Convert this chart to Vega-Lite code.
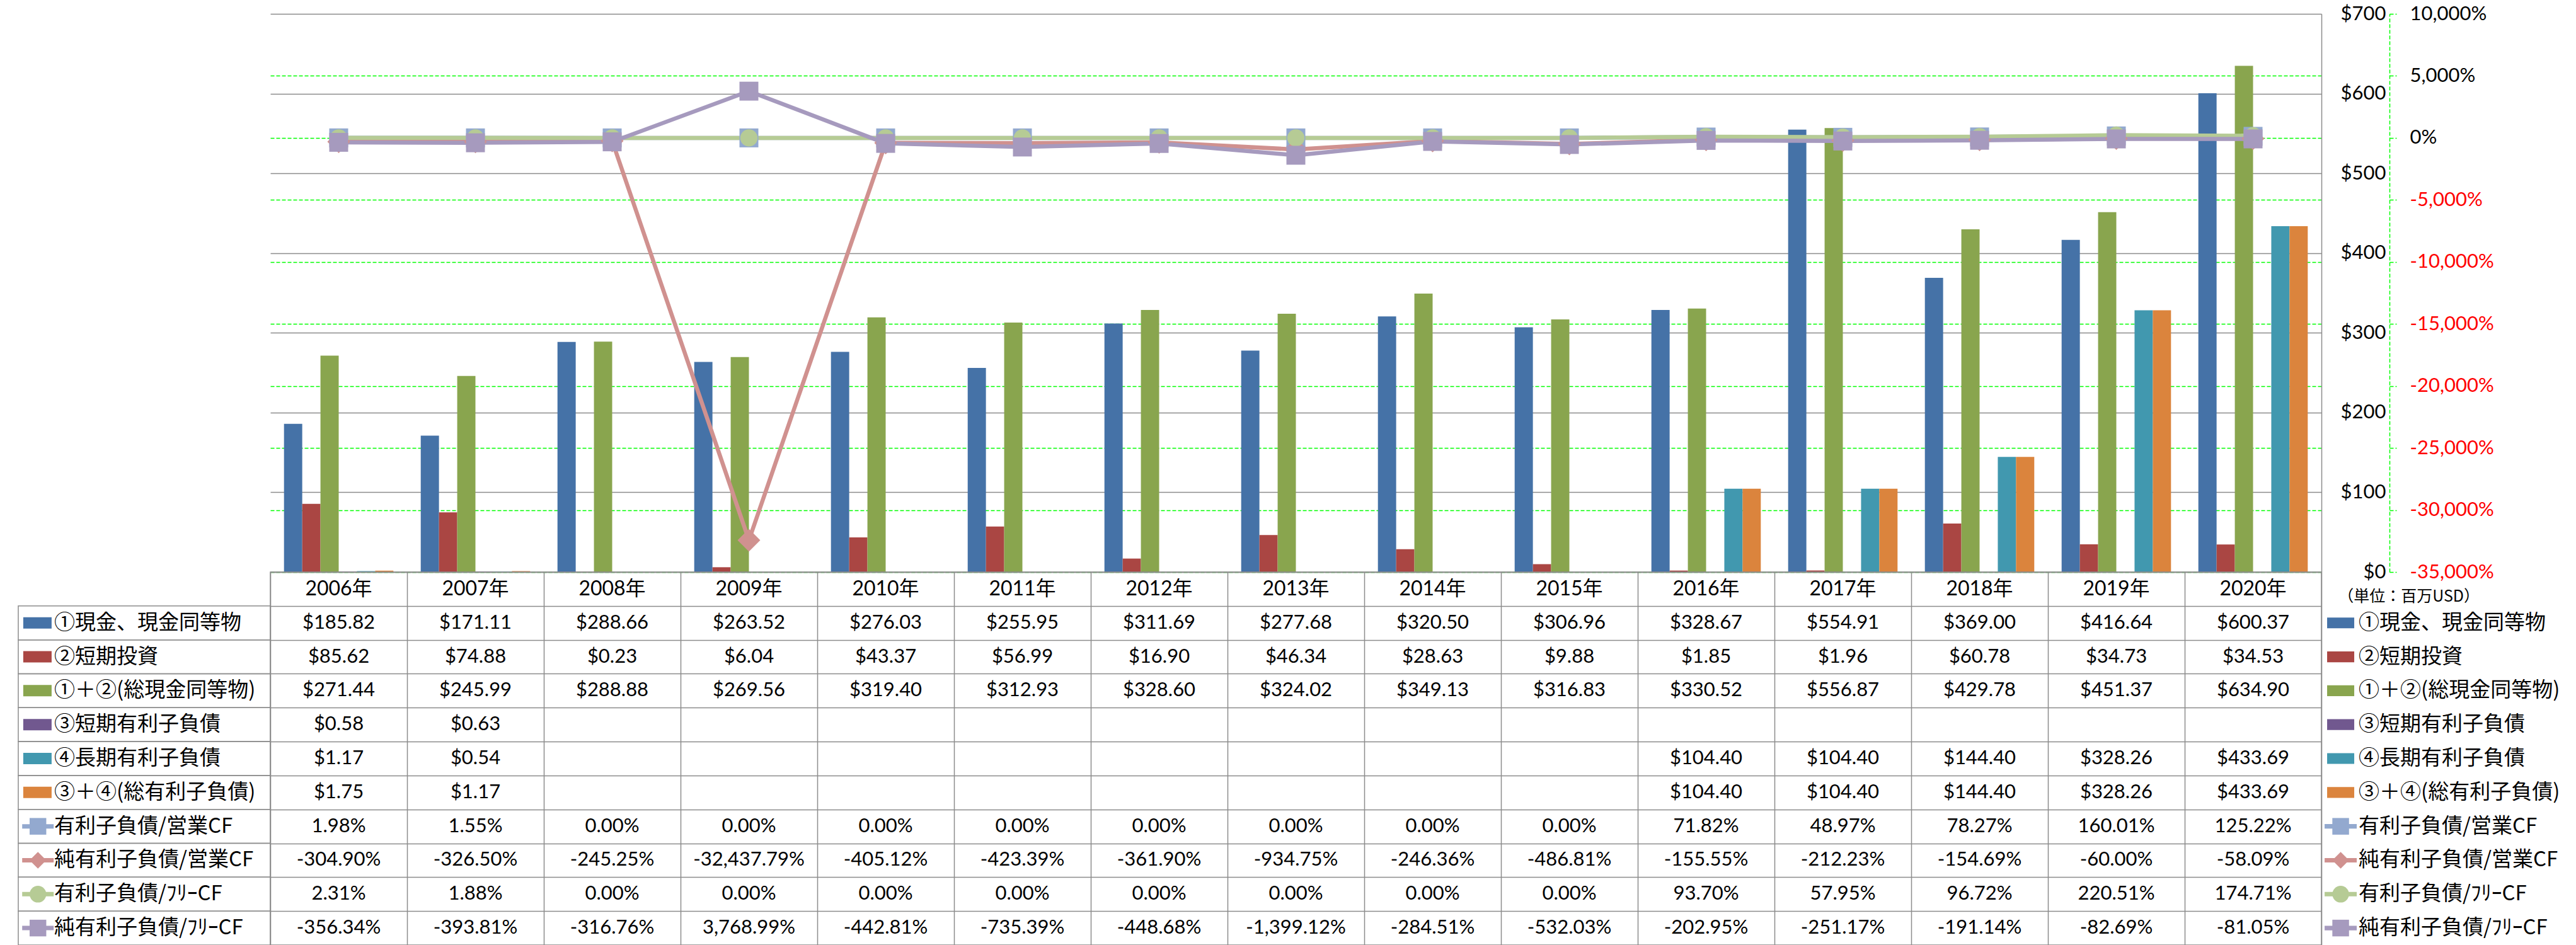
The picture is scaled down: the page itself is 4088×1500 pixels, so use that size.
{
  "$schema": "https://vega.github.io/schema/vega-lite/v6.json",
  "background": "white",
  "padding": {"left": 28, "top": 6, "right": 3, "bottom": 0},
  "spacing": 0,
  "bounds": "flush",
  "columns": 3,
  "resolve": {"scale": {"color": "independent", "shape": "independent"}},
  "config": {
    "view": {"stroke": null},
    "text": {"font": "Lato", "color": "#000000"},
    "axis": {"labelFont": "Lato", "labelFontSize": 31, "labelColor": "#000000"}
  },
  "datasets": {
    "bars": [
      {"year": "2006年", "s": "①現金、現金同等物", "v": 185.82},
      {"year": "2006年", "s": "②短期投資", "v": 85.62},
      {"year": "2006年", "s": "①＋②(総現金同等物)", "v": 271.44},
      {"year": "2006年", "s": "③短期有利子負債", "v": 0.58},
      {"year": "2006年", "s": "④長期有利子負債", "v": 1.17},
      {"year": "2006年", "s": "③＋④(総有利子負債)", "v": 1.75},
      {"year": "2007年", "s": "①現金、現金同等物", "v": 171.11},
      {"year": "2007年", "s": "②短期投資", "v": 74.88},
      {"year": "2007年", "s": "①＋②(総現金同等物)", "v": 245.99},
      {"year": "2007年", "s": "③短期有利子負債", "v": 0.63},
      {"year": "2007年", "s": "④長期有利子負債", "v": 0.54},
      {"year": "2007年", "s": "③＋④(総有利子負債)", "v": 1.17},
      {"year": "2008年", "s": "①現金、現金同等物", "v": 288.66},
      {"year": "2008年", "s": "②短期投資", "v": 0.23},
      {"year": "2008年", "s": "①＋②(総現金同等物)", "v": 288.88},
      {"year": "2009年", "s": "①現金、現金同等物", "v": 263.52},
      {"year": "2009年", "s": "②短期投資", "v": 6.04},
      {"year": "2009年", "s": "①＋②(総現金同等物)", "v": 269.56},
      {"year": "2010年", "s": "①現金、現金同等物", "v": 276.03},
      {"year": "2010年", "s": "②短期投資", "v": 43.37},
      {"year": "2010年", "s": "①＋②(総現金同等物)", "v": 319.40},
      {"year": "2011年", "s": "①現金、現金同等物", "v": 255.95},
      {"year": "2011年", "s": "②短期投資", "v": 56.99},
      {"year": "2011年", "s": "①＋②(総現金同等物)", "v": 312.93},
      {"year": "2012年", "s": "①現金、現金同等物", "v": 311.69},
      {"year": "2012年", "s": "②短期投資", "v": 16.90},
      {"year": "2012年", "s": "①＋②(総現金同等物)", "v": 328.60},
      {"year": "2013年", "s": "①現金、現金同等物", "v": 277.68},
      {"year": "2013年", "s": "②短期投資", "v": 46.34},
      {"year": "2013年", "s": "①＋②(総現金同等物)", "v": 324.02},
      {"year": "2014年", "s": "①現金、現金同等物", "v": 320.50},
      {"year": "2014年", "s": "②短期投資", "v": 28.63},
      {"year": "2014年", "s": "①＋②(総現金同等物)", "v": 349.13},
      {"year": "2015年", "s": "①現金、現金同等物", "v": 306.96},
      {"year": "2015年", "s": "②短期投資", "v": 9.88},
      {"year": "2015年", "s": "①＋②(総現金同等物)", "v": 316.83},
      {"year": "2016年", "s": "①現金、現金同等物", "v": 328.67},
      {"year": "2016年", "s": "②短期投資", "v": 1.85},
      {"year": "2016年", "s": "①＋②(総現金同等物)", "v": 330.52},
      {"year": "2016年", "s": "④長期有利子負債", "v": 104.40},
      {"year": "2016年", "s": "③＋④(総有利子負債)", "v": 104.40},
      {"year": "2017年", "s": "①現金、現金同等物", "v": 554.91},
      {"year": "2017年", "s": "②短期投資", "v": 1.96},
      {"year": "2017年", "s": "①＋②(総現金同等物)", "v": 556.87},
      {"year": "2017年", "s": "④長期有利子負債", "v": 104.40},
      {"year": "2017年", "s": "③＋④(総有利子負債)", "v": 104.40},
      {"year": "2018年", "s": "①現金、現金同等物", "v": 369.00},
      {"year": "2018年", "s": "②短期投資", "v": 60.78},
      {"year": "2018年", "s": "①＋②(総現金同等物)", "v": 429.78},
      {"year": "2018年", "s": "④長期有利子負債", "v": 144.40},
      {"year": "2018年", "s": "③＋④(総有利子負債)", "v": 144.40},
      {"year": "2019年", "s": "①現金、現金同等物", "v": 416.64},
      {"year": "2019年", "s": "②短期投資", "v": 34.73},
      {"year": "2019年", "s": "①＋②(総現金同等物)", "v": 451.37},
      {"year": "2019年", "s": "④長期有利子負債", "v": 328.26},
      {"year": "2019年", "s": "③＋④(総有利子負債)", "v": 328.26},
      {"year": "2020年", "s": "①現金、現金同等物", "v": 600.37},
      {"year": "2020年", "s": "②短期投資", "v": 34.53},
      {"year": "2020年", "s": "①＋②(総現金同等物)", "v": 634.90},
      {"year": "2020年", "s": "④長期有利子負債", "v": 433.69},
      {"year": "2020年", "s": "③＋④(総有利子負債)", "v": 433.69}
    ],
    "lines": [
      {"year": "2006年", "s": "有利子負債/営業CF", "v": 1.98},
      {"year": "2007年", "s": "有利子負債/営業CF", "v": 1.55},
      {"year": "2008年", "s": "有利子負債/営業CF", "v": 0},
      {"year": "2009年", "s": "有利子負債/営業CF", "v": 0},
      {"year": "2010年", "s": "有利子負債/営業CF", "v": 0},
      {"year": "2011年", "s": "有利子負債/営業CF", "v": 0},
      {"year": "2012年", "s": "有利子負債/営業CF", "v": 0},
      {"year": "2013年", "s": "有利子負債/営業CF", "v": 0},
      {"year": "2014年", "s": "有利子負債/営業CF", "v": 0},
      {"year": "2015年", "s": "有利子負債/営業CF", "v": 0},
      {"year": "2016年", "s": "有利子負債/営業CF", "v": 71.82},
      {"year": "2017年", "s": "有利子負債/営業CF", "v": 48.97},
      {"year": "2018年", "s": "有利子負債/営業CF", "v": 78.27},
      {"year": "2019年", "s": "有利子負債/営業CF", "v": 160.01},
      {"year": "2020年", "s": "有利子負債/営業CF", "v": 125.22},
      {"year": "2006年", "s": "純有利子負債/営業CF", "v": -304.90},
      {"year": "2007年", "s": "純有利子負債/営業CF", "v": -326.50},
      {"year": "2008年", "s": "純有利子負債/営業CF", "v": -245.25},
      {"year": "2009年", "s": "純有利子負債/営業CF", "v": -32437.79},
      {"year": "2010年", "s": "純有利子負債/営業CF", "v": -405.12},
      {"year": "2011年", "s": "純有利子負債/営業CF", "v": -423.39},
      {"year": "2012年", "s": "純有利子負債/営業CF", "v": -361.90},
      {"year": "2013年", "s": "純有利子負債/営業CF", "v": -934.75},
      {"year": "2014年", "s": "純有利子負債/営業CF", "v": -246.36},
      {"year": "2015年", "s": "純有利子負債/営業CF", "v": -486.81},
      {"year": "2016年", "s": "純有利子負債/営業CF", "v": -155.55},
      {"year": "2017年", "s": "純有利子負債/営業CF", "v": -212.23},
      {"year": "2018年", "s": "純有利子負債/営業CF", "v": -154.69},
      {"year": "2019年", "s": "純有利子負債/営業CF", "v": -60.00},
      {"year": "2020年", "s": "純有利子負債/営業CF", "v": -58.09},
      {"year": "2006年", "s": "有利子負債/ﾌﾘｰCF", "v": 2.31},
      {"year": "2007年", "s": "有利子負債/ﾌﾘｰCF", "v": 1.88},
      {"year": "2008年", "s": "有利子負債/ﾌﾘｰCF", "v": 0},
      {"year": "2009年", "s": "有利子負債/ﾌﾘｰCF", "v": 0},
      {"year": "2010年", "s": "有利子負債/ﾌﾘｰCF", "v": 0},
      {"year": "2011年", "s": "有利子負債/ﾌﾘｰCF", "v": 0},
      {"year": "2012年", "s": "有利子負債/ﾌﾘｰCF", "v": 0},
      {"year": "2013年", "s": "有利子負債/ﾌﾘｰCF", "v": 0},
      {"year": "2014年", "s": "有利子負債/ﾌﾘｰCF", "v": 0},
      {"year": "2015年", "s": "有利子負債/ﾌﾘｰCF", "v": 0},
      {"year": "2016年", "s": "有利子負債/ﾌﾘｰCF", "v": 93.70},
      {"year": "2017年", "s": "有利子負債/ﾌﾘｰCF", "v": 57.95},
      {"year": "2018年", "s": "有利子負債/ﾌﾘｰCF", "v": 96.72},
      {"year": "2019年", "s": "有利子負債/ﾌﾘｰCF", "v": 220.51},
      {"year": "2020年", "s": "有利子負債/ﾌﾘｰCF", "v": 174.71},
      {"year": "2006年", "s": "純有利子負債/ﾌﾘｰCF", "v": -356.34},
      {"year": "2007年", "s": "純有利子負債/ﾌﾘｰCF", "v": -393.81},
      {"year": "2008年", "s": "純有利子負債/ﾌﾘｰCF", "v": -316.76},
      {"year": "2009年", "s": "純有利子負債/ﾌﾘｰCF", "v": 3768.99},
      {"year": "2010年", "s": "純有利子負債/ﾌﾘｰCF", "v": -442.81},
      {"year": "2011年", "s": "純有利子負債/ﾌﾘｰCF", "v": -735.39},
      {"year": "2012年", "s": "純有利子負債/ﾌﾘｰCF", "v": -448.68},
      {"year": "2013年", "s": "純有利子負債/ﾌﾘｰCF", "v": -1399.12},
      {"year": "2014年", "s": "純有利子負債/ﾌﾘｰCF", "v": -284.51},
      {"year": "2015年", "s": "純有利子負債/ﾌﾘｰCF", "v": -532.03},
      {"year": "2016年", "s": "純有利子負債/ﾌﾘｰCF", "v": -202.95},
      {"year": "2017年", "s": "純有利子負債/ﾌﾘｰCF", "v": -251.17},
      {"year": "2018年", "s": "純有利子負債/ﾌﾘｰCF", "v": -191.14},
      {"year": "2019年", "s": "純有利子負債/ﾌﾘｰCF", "v": -82.69},
      {"year": "2020年", "s": "純有利子負債/ﾌﾘｰCF", "v": -81.05}
    ],
    "rows": [
      {"r": "①現金、現金同等物"},
      {"r": "②短期投資"},
      {"r": "①＋②(総現金同等物)"},
      {"r": "③短期有利子負債"},
      {"r": "④長期有利子負債"},
      {"r": "③＋④(総有利子負債)"},
      {"r": "有利子負債/営業CF"},
      {"r": "純有利子負債/営業CF"},
      {"r": "有利子負債/ﾌﾘｰCF"},
      {"r": "純有利子負債/ﾌﾘｰCF"}
    ]
  },
  "concat": [
    {
      "width": 400, "height": 886,
      "data": {"values": []},
      "mark": "text"
    },
    {
      "width": 3255, "height": 886,
      "encoding": {
        "x": {"field": "year", "type": "nominal", "sort": null,
          "scale": {"domain": ["2006年","2007年","2008年","2009年","2010年","2011年","2012年","2013年","2014年","2015年","2016年","2017年","2018年","2019年","2020年"], "paddingInner": 0.2, "paddingOuter": 0.1},
          "axis": null}
      },
      "layer": [
        {
          "data": {"name": "bars"},
          "mark": {"type": "bar"},
          "encoding": {
            "xOffset": {"field": "s", "type": "nominal",
              "scale": {"domain": ["①現金、現金同等物","②短期投資","①＋②(総現金同等物)","③短期有利子負債","④長期有利子負債","③＋④(総有利子負債)"], "paddingInner": 0, "paddingOuter": 0}},
            "y": {"field": "v", "type": "quantitative",
              "scale": {"domain": [0, 700], "nice": false, "zero": true},
              "axis": {"orient": "right", "values": [0,100,200,300,400,500,600,700], "labelExpr": "'$' + datum.value",
                "title": null, "grid": true, "gridColor": "#8C8C8C", "gridWidth": 1.5,
                "domain": true, "domainColor": "#8C8C8C", "domainWidth": 1.5,
                "ticks": false, "tickSize": 0, "labelAlign": "right", "labelPadding": 102,
                "labelFlush": false, "labelOverlap": false, "labelBaseline": "middle"}},
            "color": {"field": "s", "type": "nominal",
              "scale": {"domain": ["①現金、現金同等物","②短期投資","①＋②(総現金同等物)","③短期有利子負債","④長期有利子負債","③＋④(総有利子負債)"],
                        "range": ["#4572A7","#AA4643","#89A54E","#71588F","#4198AF","#DB843D"]},
              "legend": null}
          }
        },
        {
          "data": {"name": "lines"},
          "encoding": {
            "y": {"field": "v", "type": "quantitative",
              "scale": {"domain": [-35000, 10000], "nice": false, "zero": false},
              "axis": {"orient": "right", "offset": 108, "title": null,
                "values": [-35000,-30000,-25000,-20000,-15000,-10000,-5000,0,5000,10000],
                "labelExpr": "replace(format(datum.value, ','), '\u2212', '-') + '%'",
                "labelColor": {"condition": {"test": "datum.value < 0", "value": "#FF0000"}, "value": "#000000"},
                "grid": true,
                "gridColor": {"condition": {"test": "datum.value === 10000", "value": "transparent"}, "value": "#00FF00"},
                "gridDash": [6, 3], "gridWidth": 1.5,
                "domain": true, "domainColor": "#00FF00", "domainDash": [6, 3], "domainWidth": 1.5,
                "ticks": true, "tickColor": "#00FF00", "tickDash": [6, 3], "tickSize": 11, "tickWidth": 1.5,
                "labelPadding": 21, "labelFlush": false, "labelOverlap": false, "labelBaseline": "middle"}}
          },
          "layer": [
            {"transform": [{"filter": "datum.s === '有利子負債/営業CF'"}], "mark": {"type": "line", "color": "#93A9CF", "strokeWidth": 6.5, "strokeJoin": "round"}, "encoding": {}},
            {"transform": [{"filter": "datum.s === '純有利子負債/営業CF'"}], "mark": {"type": "line", "color": "#D0918F", "strokeWidth": 6.5, "strokeJoin": "round"}, "encoding": {}},
            {"transform": [{"filter": "datum.s === '有利子負債/ﾌﾘｰCF'"}], "mark": {"type": "line", "color": "#B6CB95", "strokeWidth": 6.5, "strokeJoin": "round"}, "encoding": {}},
            {"transform": [{"filter": "datum.s === '純有利子負債/ﾌﾘｰCF'"}], "mark": {"type": "line", "color": "#A69ABE", "strokeWidth": 6.5, "strokeJoin": "round"}, "encoding": {}},
            {"transform": [{"filter": "datum.s === '有利子負債/営業CF'"}], "mark": {"type": "point", "shape": "square", "size": 900, "filled": true, "color": "#93A9CF", "opacity": 1}},
            {"transform": [{"filter": "datum.s === '純有利子負債/営業CF'"}], "mark": {"type": "point", "shape": "diamond", "size": 1300, "filled": true, "color": "#D0918F", "opacity": 1}},
            {"transform": [{"filter": "datum.s === '有利子負債/ﾌﾘｰCF'"}], "mark": {"type": "point", "shape": "circle", "size": 750, "filled": true, "color": "#B6CB95", "opacity": 1}},
            {"transform": [{"filter": "datum.s === '純有利子負債/ﾌﾘｰCF'"}], "mark": {"type": "point", "shape": "square", "size": 900, "filled": true, "color": "#A69ABE", "opacity": 1}}
          ]
        }
      ],
      "resolve": {"scale": {"y": "independent"}}
    },
    {
      "width": 402, "height": 886,
      "data": {"values": []},
      "mark": "text"
    },
    {
      "width": 400, "height": 592,
      "data": {"name": "rows"},
      "encoding": {
        "y": {"field": "r", "type": "nominal",
          "scale": {"domain": ["hdr","①現金、現金同等物","②短期投資","①＋②(総現金同等物)","③短期有利子負債","④長期有利子負債","③＋④(総有利子負債)","有利子負債/営業CF","純有利子負債/営業CF","有利子負債/ﾌﾘｰCF","純有利子負債/ﾌﾘｰCF"], "paddingInner": 0, "paddingOuter": 0},
          "axis": null}
      },
      "layer": [
        {"mark": {"type": "rect", "filled": false, "stroke": "#8C8C8C", "strokeWidth": 1.5}},
        {
          "transform": [{"filter": {"field": "r", "oneOf": ["①現金、現金同等物","②短期投資","①＋②(総現金同等物)","③短期有利子負債","④長期有利子負債","③＋④(総有利子負債)"]}}],
          "mark": {"type": "point", "shape": "M-1,-0.4H1V0.4H-1Z", "size": 2025, "filled": true, "opacity": 1},
          "encoding": {
            "x": {"datum": 0.076, "type": "quantitative", "scale": {"domain": [0, 1]}, "axis": null},
            "color": {"field": "r", "type": "nominal", "legend": null,
              "scale": {"domain": ["①現金、現金同等物","②短期投資","①＋②(総現金同等物)","③短期有利子負債","④長期有利子負債","③＋④(総有利子負債)","有利子負債/営業CF","純有利子負債/営業CF","有利子負債/ﾌﾘｰCF","純有利子負債/ﾌﾘｰCF"],
                        "range": ["#4572A7","#AA4643","#89A54E","#71588F","#4198AF","#DB843D","#93A9CF","#D0918F","#B6CB95","#A69ABE"]}}
          }
        },
        {
          "transform": [{"filter": {"field": "r", "oneOf": ["有利子負債/営業CF","純有利子負債/営業CF","有利子負債/ﾌﾘｰCF","純有利子負債/ﾌﾘｰCF"]}}],
          "mark": {"type": "point", "shape": "M-1,-0.14H1V0.14H-1Z", "size": 2500, "filled": true, "opacity": 1},
          "encoding": {
            "x": {"datum": 0.078, "type": "quantitative", "scale": {"domain": [0, 1]}, "axis": null},
            "color": {"field": "r", "type": "nominal", "legend": null,
              "scale": {"domain": ["①現金、現金同等物","②短期投資","①＋②(総現金同等物)","③短期有利子負債","④長期有利子負債","③＋④(総有利子負債)","有利子負債/営業CF","純有利子負債/営業CF","有利子負債/ﾌﾘｰCF","純有利子負債/ﾌﾘｰCF"],
                        "range": ["#4572A7","#AA4643","#89A54E","#71588F","#4198AF","#DB843D","#93A9CF","#D0918F","#B6CB95","#A69ABE"]}}
          }
        },
        {
          "transform": [{"filter": {"field": "r", "oneOf": ["有利子負債/営業CF","純有利子負債/営業CF","有利子負債/ﾌﾘｰCF","純有利子負債/ﾌﾘｰCF"]}}],
          "mark": {"type": "point", "size": 700, "filled": true, "opacity": 1},
          "encoding": {
            "x": {"datum": 0.078, "type": "quantitative", "scale": {"domain": [0, 1]}, "axis": null},
            "color": {"field": "r", "type": "nominal", "legend": null,
              "scale": {"domain": ["①現金、現金同等物","②短期投資","①＋②(総現金同等物)","③短期有利子負債","④長期有利子負債","③＋④(総有利子負債)","有利子負債/営業CF","純有利子負債/営業CF","有利子負債/ﾌﾘｰCF","純有利子負債/ﾌﾘｰCF"],
                        "range": ["#4572A7","#AA4643","#89A54E","#71588F","#4198AF","#DB843D","#93A9CF","#D0918F","#B6CB95","#A69ABE"]}},
            "shape": {"field": "r", "type": "nominal", "legend": null,
              "scale": {"domain": ["有利子負債/営業CF","純有利子負債/営業CF","有利子負債/ﾌﾘｰCF","純有利子負債/ﾌﾘｰCF"], "range": ["square","diamond","circle","square"]}}
          }
        },
        {
          "mark": {"type": "text", "align": "left", "baseline": "middle", "fontSize": 33, "font": "Noto Sans CJK JP"},
          "encoding": {
            "x": {"datum": 0.1425, "type": "quantitative", "scale": {"domain": [0, 1]}, "axis": null},
            "text": {"field": "r"}
          }
        }
      ]
    },
    {
      "width": 3255, "height": 592,
      "view": {"stroke": "#8C8C8C", "strokeWidth": 1.5},
      "encoding": {
        "x": {"field": "year", "type": "nominal",
          "scale": {"domain": ["2006年","2007年","2008年","2009年","2010年","2011年","2012年","2013年","2014年","2015年","2016年","2017年","2018年","2019年","2020年"], "paddingInner": 0, "paddingOuter": 0},
          "axis": {"orient": "top", "grid": true, "tickBand": "extent", "gridColor": "#8C8C8C", "gridWidth": 1.5, "labels": false, "ticks": false, "domain": false, "title": null}},
        "y": {"field": "s", "type": "nominal",
          "scale": {"domain": ["hdr","①現金、現金同等物","②短期投資","①＋②(総現金同等物)","③短期有利子負債","④長期有利子負債","③＋④(総有利子負債)","有利子負債/営業CF","純有利子負債/営業CF","有利子負債/ﾌﾘｰCF","純有利子負債/ﾌﾘｰCF"], "paddingInner": 0, "paddingOuter": 0},
          "axis": {"grid": true, "tickBand": "extent", "gridColor": "#8C8C8C", "gridWidth": 1.5, "labels": false, "ticks": false, "domain": false, "title": null}}
      },
      "layer": [
        {
          "data": {"name": "bars"},
          "transform": [{"calculate": "'$' + format(datum.v, ',.2f')", "as": "t"}],
          "mark": {"type": "text", "fontSize": 31, "font": "Lato", "baseline": "middle"},
          "encoding": {"text": {"field": "t"}}
        },
        {
          "data": {"name": "lines"},
          "transform": [{"calculate": "replace(format(datum.v, ',.2f'), '\u2212', '-') + '%'", "as": "t"}],
          "mark": {"type": "text", "fontSize": 31, "font": "Lato", "baseline": "middle"},
          "encoding": {"text": {"field": "t"}}
        },
        {
          "data": {"name": "bars"},
          "transform": [{"filter": "datum.s === '①現金、現金同等物'"}],
          "mark": {"type": "text", "fontSize": 32, "font": "Lato, Noto Sans CJK JP", "baseline": "middle"},
          "encoding": {"y": {"datum": "hdr", "type": "nominal"}, "text": {"field": "year"}}
        }
      ]
    },
    {
      "width": 402, "height": 592,
      "data": {"name": "rows"},
      "encoding": {
        "y": {"field": "r", "type": "nominal",
          "scale": {"domain": ["hdr","①現金、現金同等物","②短期投資","①＋②(総現金同等物)","③短期有利子負債","④長期有利子負債","③＋④(総有利子負債)","有利子負債/営業CF","純有利子負債/営業CF","有利子負債/ﾌﾘｰCF","純有利子負債/ﾌﾘｰCF"], "paddingInner": 0, "paddingOuter": 0},
          "axis": null}
      },
      "layer": [
        {
          "transform": [{"filter": {"field": "r", "oneOf": ["①現金、現金同等物","②短期投資","①＋②(総現金同等物)","③短期有利子負債","④長期有利子負債","③＋④(総有利子負債)"]}}],
          "mark": {"type": "point", "shape": "M-1,-0.4H1V0.4H-1Z", "size": 1850, "filled": true, "opacity": 1},
          "encoding": {
            "x": {"datum": 0.076, "type": "quantitative", "scale": {"domain": [0, 1]}, "axis": null},
            "color": {"field": "r", "type": "nominal", "legend": null,
              "scale": {"domain": ["①現金、現金同等物","②短期投資","①＋②(総現金同等物)","③短期有利子負債","④長期有利子負債","③＋④(総有利子負債)","有利子負債/営業CF","純有利子負債/営業CF","有利子負債/ﾌﾘｰCF","純有利子負債/ﾌﾘｰCF"],
                        "range": ["#4572A7","#AA4643","#89A54E","#71588F","#4198AF","#DB843D","#93A9CF","#D0918F","#B6CB95","#A69ABE"]}}
          }
        },
        {
          "transform": [{"filter": {"field": "r", "oneOf": ["有利子負債/営業CF","純有利子負債/営業CF","有利子負債/ﾌﾘｰCF","純有利子負債/ﾌﾘｰCF"]}}],
          "mark": {"type": "point", "shape": "M-1,-0.14H1V0.14H-1Z", "size": 2600, "filled": true, "opacity": 1},
          "encoding": {
            "x": {"datum": 0.076, "type": "quantitative", "scale": {"domain": [0, 1]}, "axis": null},
            "color": {"field": "r", "type": "nominal", "legend": null,
              "scale": {"domain": ["①現金、現金同等物","②短期投資","①＋②(総現金同等物)","③短期有利子負債","④長期有利子負債","③＋④(総有利子負債)","有利子負債/営業CF","純有利子負債/営業CF","有利子負債/ﾌﾘｰCF","純有利子負債/ﾌﾘｰCF"],
                        "range": ["#4572A7","#AA4643","#89A54E","#71588F","#4198AF","#DB843D","#93A9CF","#D0918F","#B6CB95","#A69ABE"]}}
          }
        },
        {
          "transform": [{"filter": {"field": "r", "oneOf": ["有利子負債/営業CF","純有利子負債/営業CF","有利子負債/ﾌﾘｰCF","純有利子負債/ﾌﾘｰCF"]}}],
          "mark": {"type": "point", "size": 700, "filled": true, "opacity": 1},
          "encoding": {
            "x": {"datum": 0.076, "type": "quantitative", "scale": {"domain": [0, 1]}, "axis": null},
            "color": {"field": "r", "type": "nominal", "legend": null,
              "scale": {"domain": ["①現金、現金同等物","②短期投資","①＋②(総現金同等物)","③短期有利子負債","④長期有利子負債","③＋④(総有利子負債)","有利子負債/営業CF","純有利子負債/営業CF","有利子負債/ﾌﾘｰCF","純有利子負債/ﾌﾘｰCF"],
                        "range": ["#4572A7","#AA4643","#89A54E","#71588F","#4198AF","#DB843D","#93A9CF","#D0918F","#B6CB95","#A69ABE"]}},
            "shape": {"field": "r", "type": "nominal", "legend": null,
              "scale": {"domain": ["有利子負債/営業CF","純有利子負債/営業CF","有利子負債/ﾌﾘｰCF","純有利子負債/ﾌﾘｰCF"], "range": ["square","diamond","circle","square"]}}
          }
        },
        {
          "mark": {"type": "text", "align": "left", "baseline": "middle", "fontSize": 33, "font": "Noto Sans CJK JP"},
          "encoding": {
            "x": {"datum": 0.147, "type": "quantitative", "scale": {"domain": [0, 1]}, "axis": null},
            "text": {"field": "r"}
          }
        },
        {
          "data": {"values": [{"note": "（単位：百万USD）"}]},
          "mark": {"type": "text", "align": "left", "baseline": "top", "fontSize": 25, "font": "Noto Sans CJK JP"},
          "encoding": {
            "x": {"datum": 0.065, "type": "quantitative", "scale": {"domain": [0, 1]}, "axis": null},
            "y": {"datum": "hdr", "type": "nominal"},
            "text": {"field": "note"}
          }
        }
      ]
    }
  ]
}
